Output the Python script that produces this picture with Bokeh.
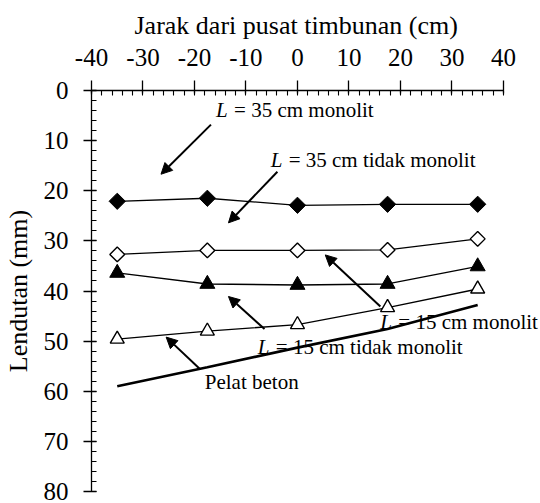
import math
from bokeh.plotting import figure
from bokeh.models import Range1d, FixedTicker, Arrow, NormalHead, Label
from bokeh.embed import file_html
from bokeh.resources import INLINE

# ---- data ----
x_pos = [-35, -17.5, 0, 17.5, 35]
l35_monolit = [22.1, 21.5, 22.9, 22.7, 22.7]
l35_tidak = [32.7, 31.9, 31.9, 31.8, 29.6]
l15_monolit = [36.4, 38.6, 38.8, 38.6, 35.1]
l15_tidak = [49.6, 48.0, 46.7, 43.3, 39.6]
pelat_beton = [59.0, 55.2, 51.3, 47.6, 42.8]
x_ticks = [-40, -30, -20, -10, 0, 10, 20, 30, 40]
y_ticks = [0, 10, 20, 30, 40, 50, 60, 70, 80]

FONT = "Liberation Serif"

p = figure(width=540, height=503, output_backend="svg", toolbar_location=None,
           x_range=Range1d(-40, 47.2), y_range=Range1d(80, 0),
           x_axis_location="above", min_border_left=89, min_border_right=0,
           min_border_top=90, min_border_bottom=12)
p.outline_line_color = None
p.xgrid.visible = False
p.ygrid.visible = False
p.background_fill_color = "white"
p.border_fill_color = "white"

# x-axis title drawn as the plot title (so it can be centred on the axis, not the frame)
p.title.text = "Jarak dari pusat timbunan (cm)"
p.title.text_font = FONT
p.title.text_font_size = "26px"
p.title.text_font_style = "normal"
p.title.text_color = "black"
p.title.align = "left"
p.title.offset = 43
p.title.standoff = 11

for ax in (p.xaxis[0], p.yaxis[0]):
    ax.major_label_text_font = FONT
    ax.major_label_text_font_size = "25px"
    ax.major_label_text_color = "black"
    ax.axis_label_text_font = FONT
    ax.axis_label_text_font_size = "26px"
    ax.axis_label_text_font_style = "normal"
    ax.axis_label_text_color = "black"
    ax.axis_line_color = "black"
    ax.axis_line_width = 1.3
    ax.major_tick_line_color = "black"
    ax.minor_tick_line_color = "black"
    ax.major_tick_line_width = 1.3
    ax.minor_tick_line_width = 1.1
    ax.minor_tick_in = 5
    ax.minor_tick_out = 0

p.xaxis.major_tick_in = 3
p.xaxis.major_tick_out = 10
p.yaxis.major_tick_in = 5
p.yaxis.major_tick_out = 8
p.xaxis.bounds = (-40, 40)

p.yaxis.axis_label = "Lendutan (mm)"
p.xaxis.ticker = FixedTicker(ticks=x_ticks, minor_ticks=list(range(-40, 41, 2)))
p.yaxis.ticker = FixedTicker(ticks=y_ticks, minor_ticks=list(range(0, 81, 2)))
p.xaxis.major_label_overrides = {t: str(t) for t in x_ticks}
p.xaxis.major_label_standoff = 15
p.yaxis.major_label_standoff = 15
p.yaxis.axis_label_standoff = 8

# series
p.line(x_pos, l35_monolit, line_color="black", line_width=1.3)
p.scatter(x_pos, l35_monolit, marker="square", angle=math.pi / 4, size=11.5,
          fill_color="black", line_color="black")
p.line(x_pos, l35_tidak, line_color="black", line_width=1.3)
p.scatter(x_pos, l35_tidak, marker="square", angle=math.pi / 4, size=10.5,
          fill_color="white", line_color="black", line_width=1.4)
p.line(x_pos, l15_monolit, line_color="black", line_width=1.3)
p.scatter(x_pos, l15_monolit, marker="triangle", size=15,
          fill_color="black", line_color="black")
p.line(x_pos, l15_tidak, line_color="black", line_width=1.3)
p.scatter(x_pos, l15_tidak, marker="triangle", size=14,
          fill_color="white", line_color="black", line_width=1.4)
p.line(x_pos, pelat_beton, line_color="black", line_width=2.6)

# arrows
arrows = [
    (-16.8, 6.8, -26.5, 16.7),
    (-3.9, 16.2, -13.4, 26.4),
    (16.1, 43.1, 5.4, 32.8),
    (-6.4, 47.6, -13.4, 41.1),
    (-19.0, 55.5, -25.5, 49.2),
]
for xs, ys, xe, ye in arrows:
    p.add_layout(Arrow(x_start=xs, y_start=ys, x_end=xe, y_end=ye,
                       line_color="black", line_width=2,
                       end=NormalHead(size=11, fill_color="black", line_color="black")))

def note(x, y, rest, italic_l=True):
    if italic_l:
        p.add_layout(Label(x=x, y=y, text="L", text_font=FONT, text_font_size="21px",
                           text_font_style="italic", text_color="black",
                           text_baseline="middle", text_align="left"))
        p.add_layout(Label(x=x, y=y, x_offset=18, text=rest, text_font=FONT,
                           text_font_size="21px", text_color="black",
                           text_baseline="middle", text_align="left"))
    else:
        p.add_layout(Label(x=x, y=y, text=rest, text_font=FONT, text_font_size="21px",
                           text_color="black", text_baseline="middle", text_align="left"))

note(-15.8, 3.8, "= 35 cm monolit")
note(-5.2, 13.9, "= 35 cm tidak monolit")
note(16.1, 46.1, "= 15 cm monolit")
note(-7.7, 51.2, "= 15 cm tidak monolit")
note(-18.0, 58.2, "Pelat beton", italic_l=False)

open("out.html", "w").write(file_html(p, INLINE))
